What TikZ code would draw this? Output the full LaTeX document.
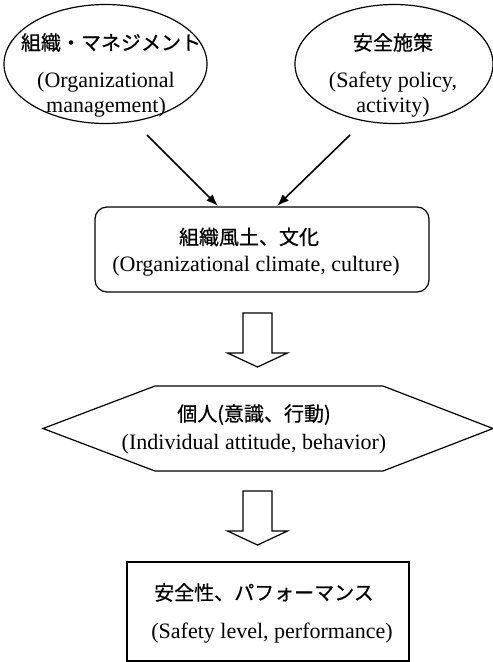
\documentclass[tikz,border=0pt]{standalone}
\usepackage{fontspec}
\setmainfont{Liberation Serif}
\newfontfamily\jp[FakeBold=0.6]{Noto Sans CJK JP}
\usetikzlibrary{shapes.geometric,arrows.meta}
\tikzset{
  lw/.style={line width=1.2pt},
  ell/.style={draw, ellipse, line width=1.2pt, inner sep=0pt},
  txt/.style={align=center, inner sep=0pt, font=\fontsize{22}{25}\selectfont},
  jpt/.style={},
  arr/.style={line width=1.6pt, -{Latex[length=12pt,width=9pt]}},
  hollowarrow/.pic={
    \draw[line width=1.2pt, line join=miter] (0,0) ++(-14.5,0) -- ++(0,40) -- ++(-15.5,0)
      -- ++(30,14) -- ++(30,-14) -- ++(-15.5,0) -- ++(0,-40) -- cycle;
  }
}
\begin{document}
\begin{tikzpicture}[x=1pt,y=-1pt]
\useasboundingbox (0,0) rectangle (493,662);
% top ellipses
\node[ell, minimum width=203pt, minimum height=119pt] (L) at (105.5,64) {};
\node[txt] (Lt) at (106,75) {\hspace*{10pt}{\jp\fontsize{20}{25}\selectfont 組織・マネジメント}\\[12pt](Organizational\\management)};
\node[ell, minimum width=198pt, minimum height=119pt] (R) at (394,64) {};
\node[txt] (Rt) at (393,75) {{\jp\fontsize{20}{25}\selectfont 安全施策}\\[12pt](Safety policy,\\activity)};
% rounded box
\node[draw, lw, rounded corners=12pt, minimum width=334pt, minimum height=85pt] (C) at (262,249.5) {};
\node[txt] (Ct) at (256,252) {{\jp\fontsize{20}{25}\selectfont 組織風土、文化}\hspace*{14pt}\\[2pt](Organizational climate, culture)};
\coordinate (la) at (147,135);
\coordinate (lb) at (218,206);
\coordinate (ra) at (350,135);
\coordinate (rb) at (277,206);
\draw[arr] (la) -- (lb);
\draw[arr] (ra) -- (rb);
% hollow arrow 1
\pic (A1) at (257.5,313) {hollowarrow};
% hexagon
\coordinate (H) at (268,428.5);
\draw[lw] (43,428.5) -- (155,386) -- (383,386) -- (493,428.5) -- (383,471) -- (155,471) -- cycle;
\node[txt] (Ht) at (254,429) {{\jp\fontsize{20}{25}\selectfont 個人(意識、行動)}\\[3pt](Individual attitude, behavior)};
% hollow arrow 2
\pic (A2) at (257.5,491) {hollowarrow};
% bottom box
\node[draw, lw, minimum width=282pt, minimum height=99pt] (B) at (268,611.5) {};
\node[txt] (Bt) at (268,613) {{\jp\fontsize{20}{25}\selectfont 安全性、パフォーマンス}\hspace*{8pt}\\[13pt]\hspace*{8pt}(Safety level, performance)};
\end{tikzpicture}
\end{document}
